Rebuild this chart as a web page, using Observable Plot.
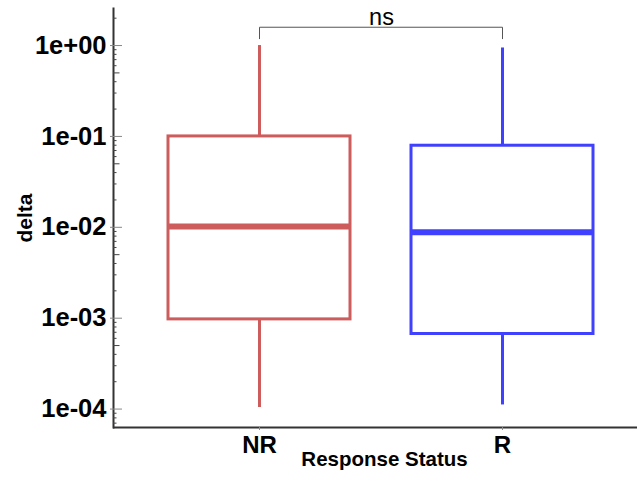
<!DOCTYPE html>
<html><head><meta charset="utf-8">
<script src="https://cdn.jsdelivr.net/npm/d3@7"></script>
<script src="https://cdn.jsdelivr.net/npm/@observablehq/plot@0.6"></script>
<style>html,body{margin:0;padding:0;overflow:hidden;background:#fff}</style>
</head><body><div id="chart"></div>
<script>
// Categories and box statistics
const groups = ["NR", "R"];
const colors = ["#cd5c5c", "#4040ff"];
const whiskerLow = [1.04e-4, 1.11e-4];
const q1 = [9.7e-4, 6.7e-4];
const medians = [1.02e-2, 8.8e-3];
const q3 = [0.1, 0.079];
const whiskerHigh = [1.0, 0.94];

// Axis ticks
const majorTicks = [1e-4, 1e-3, 1e-2, 1e-1, 1];
const majorLabels = ["1e-04", "1e-03", "1e-02", "1e-01", "1e+00"];
const decades = [1e-5, 1e-4, 1e-3, 1e-2, 1e-1, 1];
const minorMults = [2, 3, 4, 6, 7, 8, 9];
const midMults = [5];
const yDomain = [6.27e-5, 2.556];

// Significance annotation
const testLabel = "ns";
const bracketTop = 1.59;
const bracketLeg = 1.19;
const labelY = 2.03;

const inDomain = v => v >= yDomain[0] && v <= yDomain[1];
const minorTicks = decades.flatMap(d => minorMults.map(m => m * d)).filter(inDomain);
const midTicks = decades.flatMap(d => midMults.map(m => m * d)).filter(inDomain);

const table = groups.map((g, i) => ({
  group: g, lo: whiskerLow[i], q1: q1[i], med: medians[i], q3: q3[i], hi: whiskerHigh[i]
}));
const bracket = [
  {x: groups[0], y: bracketLeg},
  {x: groups[0], y: bracketTop},
  {x: groups[1], y: bracketTop},
  {x: groups[1], y: bracketLeg}
];

const font = "'Liberation Sans', Arial, sans-serif";

const chart = Plot.plot({
  width: 637,
  height: 481,
  marginTop: 8,
  marginBottom: 54,
  marginLeft: 113,
  marginRight: -12,
  style: {fontFamily: font, background: "#fff", overflow: "hidden"},
  x: {type: "band", domain: groups, paddingInner: 0.25, paddingOuter: 0.225, align: 0.5, label: null},
  y: {type: "log", domain: yDomain, label: null},
  color: {domain: groups, range: colors},
  marks: [
    // whiskers
    Plot.ruleX(table, {x: "group", y1: "q3", y2: "hi", stroke: "group", strokeWidth: 3}),
    Plot.ruleX(table, {x: "group", y1: "lo", y2: "q1", stroke: "group", strokeWidth: 3}),
    // boxes
    Plot.barY(table, {x: "group", y1: "q1", y2: "q3", fill: "white", stroke: "group", strokeWidth: 3}),
    // medians
    Plot.tickY(table, {x: "group", y: "med", stroke: "group", strokeWidth: 6}),
    // axis lines
    Plot.ruleY([yDomain[0]], {stroke: "#333", strokeWidth: 2}),
    Plot.frame({anchor: "left", stroke: "#333", strokeWidth: 2}),
    // y axis labels
    Plot.axisY({ticks: majorTicks, tickSize: 0, tickPadding: 7, stroke: "none",
      tickFormat: d => majorLabels[majorTicks.indexOf(d)],
      fontSize: 25.5, fontWeight: "bold", fill: "black", label: null}),
    // y major ticks (crossing the axis)
    Plot.axisY({ticks: majorTicks, tickSize: 12, dx: 9, fill: "none", stroke: "#888", label: null}),
    Plot.axisY({ticks: midTicks, tickSize: 6.5, dx: 6.5, fill: "none", stroke: "#444", label: null}),
    Plot.axisY({ticks: minorTicks, tickSize: 3.5, dx: 3.5, fill: "none", stroke: "#444", label: null}),
    // x axis
    Plot.axisX({tickSize: 3, tickPadding: 5, stroke: "#888", fill: "black",
      fontSize: 24, fontWeight: "bold", label: null}),
    // axis titles
    Plot.text(["Response Status"], {frameAnchor: "bottom", dy: 32, dx: 3, fontSize: 20.5,
      fontWeight: "bold", fill: "black", lineAnchor: "middle"}),
    Plot.text(["delta"], {frameAnchor: "left", textAnchor: "middle", dx: -88, rotate: -90, fontSize: 21,
      fontWeight: "bold", fill: "black", lineAnchor: "middle"}),
    // significance bracket
    Plot.line(bracket, {x: "x", y: "y", stroke: "#555", strokeWidth: 1, curve: "linear"}),
    Plot.text([testLabel], {y: [labelY], text: d => d, fontSize: 23.5, fill: "black", lineAnchor: "middle"})
  ]
});
document.getElementById("chart").appendChild(chart);
</script>
</body></html>
